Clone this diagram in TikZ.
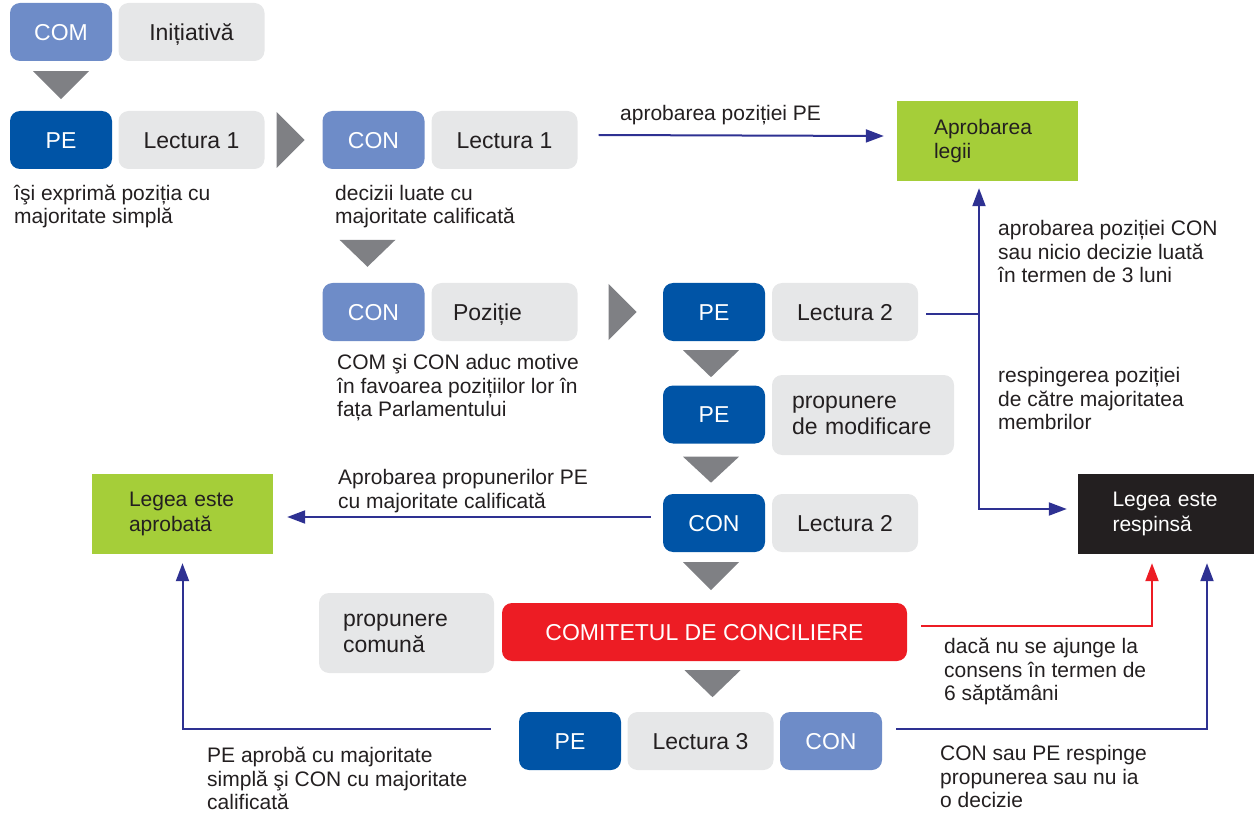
\documentclass[tikz,border=0pt]{standalone}
\usepackage{fontspec}
\setmainfont{Liberation Sans}
\usetikzlibrary{arrows.meta}
\definecolor{peblue}{HTML}{0054A6}
\definecolor{conblue}{HTML}{6E8CC8}
\definecolor{boxgray}{HTML}{E6E7E8}
\definecolor{trigray}{HTML}{7F8084}
\definecolor{lawgreen}{HTML}{A5CE39}
\definecolor{lawblack}{HTML}{231F20}
\definecolor{concred}{HTML}{ED1C24}
\definecolor{flownavy}{HTML}{2E3192}
\definecolor{textdark}{HTML}{231F20}

\begin{document}
\begin{tikzpicture}[x=1pt, y=-1pt, >={Triangle[length=18pt, width=13pt]}]
            \tikzstyle{pad} = [rounded corners=10pt, minimum height=58pt, inner sep=0pt, font=\fontsize{23}{26}\selectfont]
            \tikzstyle{oneline} = [pad, text height=16.5pt, text depth=0pt]
            \tikzstyle{darkpad} = [oneline, fill=peblue, text=white, minimum width=102pt]
            \tikzstyle{lightpad} = [oneline, fill=conblue, text=white, minimum width=102pt]
            \tikzstyle{stage} = [oneline, fill=boxgray, text=textdark, minimum width=146pt]
            \tikzstyle{stagewide} = [pad, fill=boxgray, text=textdark, minimum height=80pt, align=left]
            \tikzstyle{law} = [minimum height=80pt, inner ysep=0pt, inner xsep=37pt, text width=107pt, align=left, font=\fontsize{21}{24.5}\selectfont]
            \tikzstyle{note} = [anchor=west, align=left, inner sep=0pt, text=textdark, font=\fontsize{21}{23.5}\selectfont]
            \tikzstyle{flow} = [flownavy, line width=2pt]
            \useasboundingbox (0,0) rectangle (1254,813);
            \node[lightpad] (com) at (61,32) {COM};
            \node[stage] (init) at (191.5,32) {Inițiativă};
            \node[darkpad] (pe1) at (61,140) {PE};
            \node[stage] (lect1) at (191.5,140) {Lectura 1};
            \node[lightpad] (con1) at (373.5,140) {CON};
            \node[stage] (lect1c) at (504.5,140) {Lectura 1};
            \node[lightpad] (con2) at (373.5,312) {CON};
            \node[stage, inner xsep=21pt, text width=103pt, align=left] (pozitie) at (504.5,312) {Poziție};
            \node[darkpad] (pe2) at (714,312) {PE};
            \node[stage] (lect2) at (845,312) {Lectura 2};
            \node[darkpad] (pe3) at (714,414.5) {PE};
            \node[stagewide, inner xsep=20pt, text width=142pt] (modif) at (863,415) {propunere\\de modificare};
            \node[darkpad] (con3) at (714,523) {CON};
            \node[stage] (lect2c) at (845,523) {Lectura 2};
            \node[stagewide, inner xsep=24pt, text width=127pt] (comuna) at (406.5,633) {propunere\\comună};
            \node[oneline, fill=concred, text=white, minimum width=405pt] (comit) at (704.5,632) {COMITETUL DE CONCILIERE};
            \node[darkpad] (pe4) at (570,741) {PE};
            \node[stage] (lect3) at (700.5,741) {Lectura 3};
            \node[lightpad] (con4) at (831,741) {CON};
            \node[law, fill=lawgreen, text=textdark] (aprob) at (987.5,141) {Aprobarea\\legii};
            \node[law, fill=lawgreen, text=textdark] (legap) at (182.5,514) {Legea este\\aprobată};
            \node[law, fill=lawblack, text=white, inner xsep=34.5pt] (resp) at (1166,514) {Legea este\\respinsă};
            \fill[trigray] ([xshift=-28pt, yshift=-10pt]com.south) -- ++(56,0) -- ++(-28,28) -- cycle;
            \fill[trigray] ([xshift=12pt, yshift=28pt]lect1.east) -- ++(0,56) -- ++(28,-28) -- cycle;
            \fill[trigray] ([xshift=-34pt, yshift=43pt]con2.north) -- ++(56,0) -- ++(-28,27) -- cycle;
            \fill[trigray] ([xshift=31pt, yshift=28pt]pozitie.east) -- ++(0,56) -- ++(28,-28) -- cycle;
            \fill[trigray] ([xshift=-31pt, yshift=-9pt]pe2.south) -- ++(56,0) -- ++(-28,27) -- cycle;
            \fill[trigray] ([xshift=-31pt, yshift=-13pt]pe3.south) -- ++(56,0) -- ++(-28,26) -- cycle;
            \fill[trigray] ([xshift=-31pt, yshift=-10pt]con3.south) -- ++(56,0) -- ++(-28,28) -- cycle;
            \fill[trigray] ([xshift=-20pt, yshift=-9pt]comit.south) -- ++(56,0) -- ++(-28,27) -- cycle;
            \coordinate (split) at (979,314);
            \draw[flow, ->] ([xshift=21pt, yshift=5pt]lect1c.east) -- ([xshift=-13pt, yshift=5pt]aprob.west);
            \draw[flow] ([xshift=8pt, yshift=-2pt]lect2.east) -- (split);
            \draw[flow, ->] (split) -- ([yshift=-7pt]split |- aprob.south);
            \draw[flow, ->] (split) |- ([xshift=-11pt, yshift=5pt]resp.west);
            \draw[flow, ->] ([xshift=-12pt, yshift=6pt]con3.west) -- ([xshift=14pt, yshift=-3pt]legap.east);
            \draw[concred, line width=2pt, ->] ([xshift=14pt, yshift=6pt]comit.east) -| ([xshift=-14pt, yshift=-9pt]resp.south);
            \draw[flow, ->] ([xshift=14pt, yshift=12pt]con4.east) -| ([xshift=41pt, yshift=-9pt]resp.south);
            \draw[flow, ->] ([xshift=-28pt, yshift=12pt]pe4.west) -| ([yshift=-9pt]legap.south);
            \node[note] (n1) at (14,206.5) {îşi exprimă poziția cu\\majoritate simplă};
            \node[note] (n2) at (335,206.5) {decizii luate cu\\majoritate calificată};
            \node[note] (n3) at (337,388) {COM şi CON aduc motive\\în favoarea pozițiilor lor în\\fața Parlamentului};
            \node[note] (n4) at (620,115) {aprobarea poziției PE};
            \node[note] (n5) at (998,251.5) {aprobarea poziției CON\\sau nicio decizie luată\\în termen de 3 luni};
            \node[note] (n6) at (998,398.5) {respingerea poziției\\de către majoritatea\\membrilor};
            \node[note] (n7) at (338,491) {Aprobarea propunerilor PE\\cu majoritate calificată};
            \node[note] (n8) at (944,671.5) {dacă nu se ajunge la\\consens în termen de\\6 săptămâni};
            \node[note] (n9) at (940,776.5) {CON sau PE respinge\\propunerea sau nu ia\\o decizie};
            \node[note] (n10) at (207,778.5) {PE aprobă cu majoritate\\simplă şi CON cu majoritate\\calificată};
        \end{tikzpicture}
\end{document}
